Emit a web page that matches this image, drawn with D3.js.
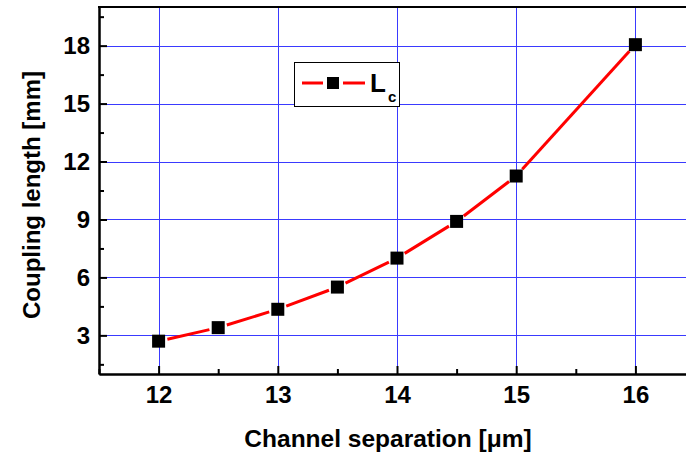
<!DOCTYPE html>
<html>
<head>
<meta charset="utf-8">
<script src="https://cdn.jsdelivr.net/npm/d3@7"></script>
<style>
  html, body { margin: 0; padding: 0; background: #fff; }
  svg { display: block; font-family: "Liberation Sans", Arial, sans-serif; font-weight: bold; }
</style>
</head>
<body>
<svg id="chart" width="686" height="456"></svg>
<script>
// Coupling length versus channel separation
const separation = [12, 12.5, 13, 13.5, 14, 14.5, 15, 16];
const couplingLength = [2.7, 3.4, 4.35, 5.5, 7.0, 8.9, 11.25, 18.05];
const xTicks = [12, 13, 14, 15, 16];
const yTicks = [3, 6, 9, 12, 15, 18];
const seriesName = "L";
const seriesSub = "c";

const svg = d3.select("#chart");
const plotL = 99, plotR = 695, plotT = 7, plotB = 374;

const x = d3.scaleLinear().domain([11.5, 16.5]).range([plotL, plotR]);
const y = d3.scaleLinear().domain([1, 20]).range([plotB, plotT]);

// grid
const grid = svg.append("g").attr("stroke", "#3a3aff").attr("stroke-width", 1);
grid.selectAll("line.gx").data(xTicks).join("line").attr("class", "gx")
  .attr("x1", d => Math.round(x(d)) + 0.5).attr("x2", d => Math.round(x(d)) + 0.5)
  .attr("y1", plotT).attr("y2", plotB);
grid.selectAll("line.gy").data(yTicks).join("line").attr("class", "gy")
  .attr("y1", d => Math.round(y(d)) + 0.5).attr("y2", d => Math.round(y(d)) + 0.5)
  .attr("x1", plotL).attr("x2", plotR);

// axes with inward ticks
const xMinor = d3.range(11.5, 16.51, 0.5).filter(v => !xTicks.includes(v));
const yMinor = d3.range(1.5, 20, 1.5).filter(v => !yTicks.includes(Math.round(v * 100) / 100));
const fmt = d3.format("d");

const xAxis = svg.append("g").attr("transform", `translate(0,${plotB})`)
  .call(d3.axisBottom(x).tickValues(xTicks).tickFormat(fmt).tickSizeInner(-8).tickSizeOuter(0).tickPadding(12));
const xAxisMinor = svg.append("g").attr("transform", `translate(0,${plotB})`)
  .call(d3.axisBottom(x).tickValues(xMinor).tickSizeInner(-5).tickSizeOuter(0).tickFormat(""));
const yAxis = svg.append("g").attr("transform", `translate(${plotL},0)`)
  .call(d3.axisLeft(y).tickValues(yTicks).tickFormat(fmt).tickSizeInner(-8).tickSizeOuter(0).tickPadding(9));
const yAxisMinor = svg.append("g").attr("transform", `translate(${plotL},0)`)
  .call(d3.axisLeft(y).tickValues(yMinor).tickSizeInner(-5).tickSizeOuter(0).tickFormat(""));

[xAxis, xAxisMinor, yAxis, yAxisMinor].forEach(g => {
  g.select(".domain").attr("stroke", "#000").attr("stroke-width", 2);
  g.selectAll(".tick line").attr("stroke", "#000").attr("stroke-width", 2);
  g.selectAll(".tick text").attr("fill", "#000")
    .style("font-size", "24px").style("font-weight", "bold")
    .style("font-family", "'Liberation Sans', Arial, sans-serif");
});

// frame top and right
svg.append("line").attr("x1", plotL - 1).attr("x2", plotR).attr("y1", plotT).attr("y2", plotT)
  .attr("stroke", "#000").attr("stroke-width", 2);
svg.append("line").attr("x1", plotR).attr("x2", plotR).attr("y1", plotT).attr("y2", plotB)
  .attr("stroke", "#000").attr("stroke-width", 2);

// series line, broken near markers
const pts = separation.map((s, i) => [x(s), y(couplingLength[i])]);
const gap = 9;
const lineG = svg.append("g").attr("stroke", "#ff0000").attr("stroke-width", 3).attr("fill", "none");
for (let i = 0; i < pts.length - 1; i++) {
  const [x0, y0] = pts[i], [x1, y1] = pts[i + 1];
  const len = Math.hypot(x1 - x0, y1 - y0);
  const ux = (x1 - x0) / len, uy = (y1 - y0) / len;
  lineG.append("line")
    .attr("x1", x0 + ux * gap).attr("y1", y0 + uy * gap)
    .attr("x2", x1 - ux * gap).attr("y2", y1 - uy * gap);
}

// square markers
const ms = 13;
svg.append("g").selectAll("rect").data(pts).join("rect")
  .attr("x", d => d[0] - ms / 2).attr("y", d => d[1] - ms / 2)
  .attr("width", ms).attr("height", ms).attr("fill", "#000");

// legend
const lg = svg.append("g");
lg.append("rect").attr("x", 294.5).attr("y", 62.5).attr("width", 105).attr("height", 44)
  .attr("fill", "#fff").attr("stroke", "#000").attr("stroke-width", 1);
lg.append("line").attr("x1", 302).attr("x2", 323).attr("y1", 83).attr("y2", 83)
  .attr("stroke", "#ff0000").attr("stroke-width", 3);
lg.append("line").attr("x1", 343).attr("x2", 365).attr("y1", 83).attr("y2", 83)
  .attr("stroke", "#ff0000").attr("stroke-width", 3);
lg.append("rect").attr("x", 327).attr("y", 77).attr("width", 12).attr("height", 12).attr("fill", "#000");
const lt = lg.append("text").attr("x", 370).attr("y", 92).style("font-size", "26px");
lt.append("tspan").text(seriesName);
lt.append("tspan").attr("dx", 2).attr("dy", 10).style("font-size", "15px").text(seriesSub);

// axis titles
svg.append("text").attr("x", 388).attr("y", 447).attr("text-anchor", "middle")
  .style("font-size", "24.5px").text("Channel separation [\u03bcm]");
svg.append("text").attr("transform", "translate(40,195) rotate(-90)").attr("text-anchor", "middle")
  .style("font-size", "24px").text("Coupling length [mm]");
</script>
</body>
</html>
